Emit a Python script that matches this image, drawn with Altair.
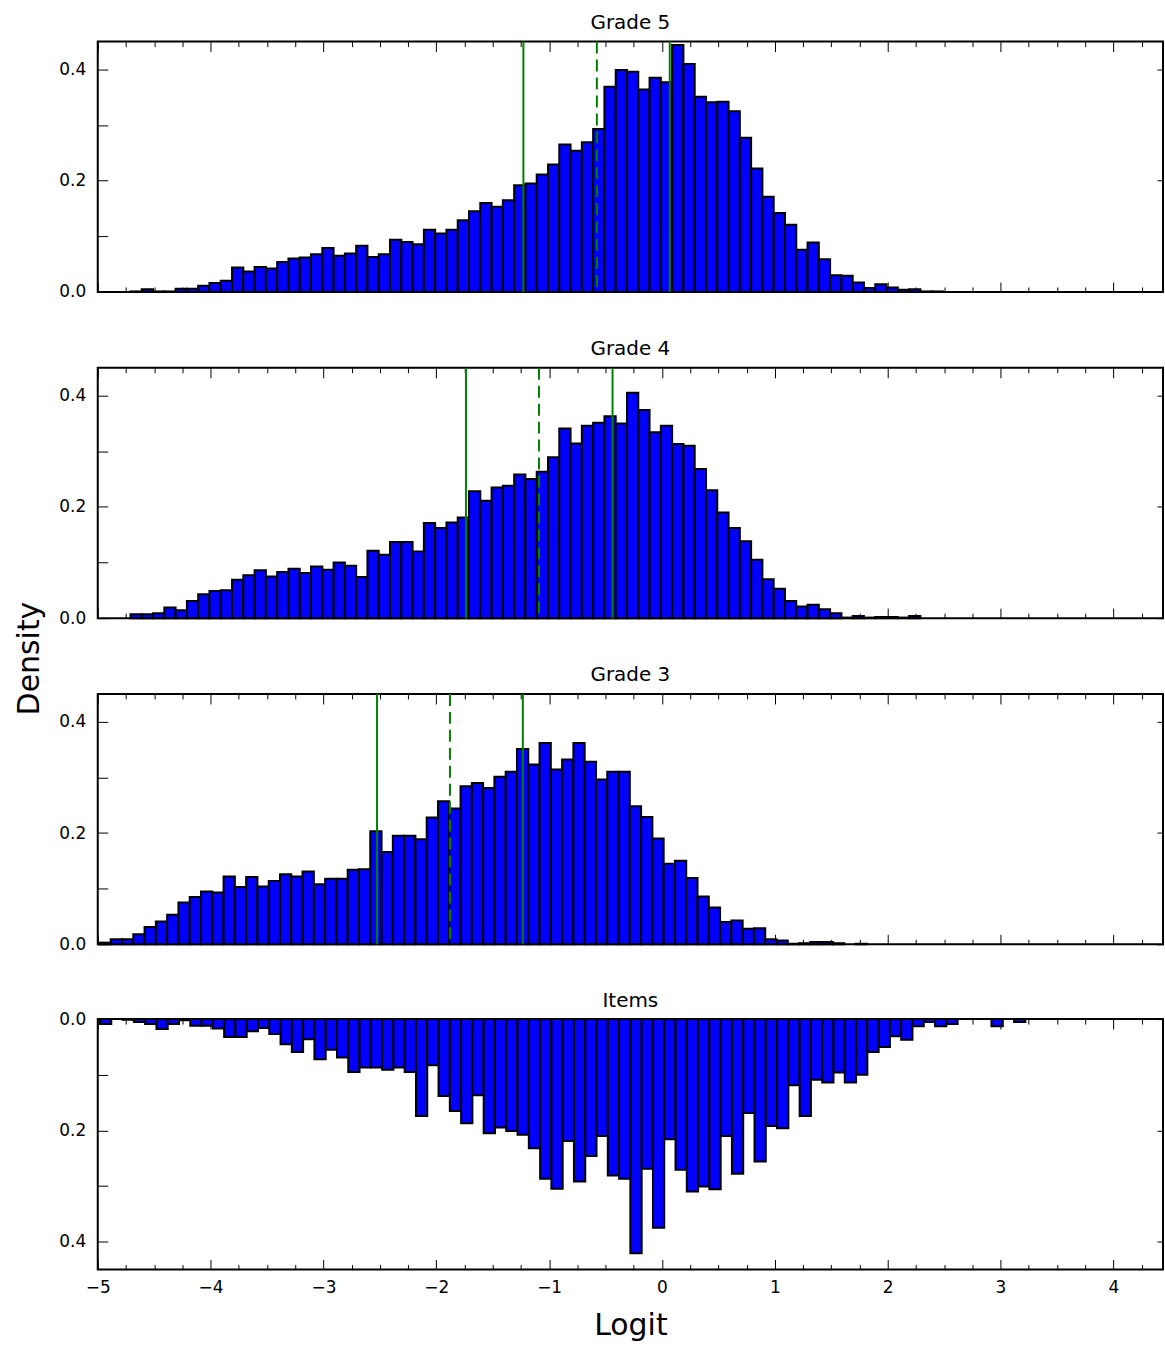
import altair as alt
import pandas as pd

BIN = 0.1
X_DOMAIN = [-5.0, 4.44]
Y_MAX = 0.45
FONT = "DejaVu Sans"

# ---- histogram densities (bin width 0.1) ----
grade5_start = -4.71
grade5_density = [
    0.001, 0.005, 0.001, 0.001, 0.006, 0.006, 0.011, 0.016, 0.020, 0.044,
    0.037, 0.045, 0.042, 0.054, 0.060, 0.062, 0.068, 0.079, 0.065, 0.069,
    0.083, 0.063, 0.068, 0.094, 0.090, 0.086, 0.112, 0.105, 0.112, 0.129,
    0.145, 0.160, 0.153, 0.165, 0.192, 0.195, 0.211, 0.229, 0.265, 0.254,
    0.269, 0.293, 0.369, 0.399, 0.396, 0.364, 0.385, 0.377, 0.444, 0.410,
    0.351, 0.341, 0.342, 0.325, 0.277, 0.222, 0.171, 0.142, 0.121, 0.076,
    0.089, 0.059, 0.030, 0.029, 0.017, 0.007, 0.014, 0.008, 0.004, 0.005,
    0.001, 0.001,
]
grade5_lines = [-1.228, -0.577, 0.069]

grade4_start = -4.71
grade4_density = [
    0.007, 0.007, 0.009, 0.019, 0.014, 0.031, 0.043, 0.049, 0.050, 0.069,
    0.077, 0.086, 0.075, 0.083, 0.089, 0.081, 0.093, 0.087, 0.100, 0.094,
    0.074, 0.121, 0.114, 0.137, 0.137, 0.120, 0.171, 0.162, 0.172, 0.181,
    0.228, 0.211, 0.235, 0.238, 0.258, 0.250, 0.263, 0.289, 0.341, 0.314,
    0.346, 0.351, 0.363, 0.350, 0.405, 0.374, 0.334, 0.346, 0.313, 0.310,
    0.268, 0.230, 0.190, 0.162, 0.138, 0.105, 0.070, 0.053, 0.031, 0.021,
    0.024, 0.016, 0.009, 0.001, 0.004, 0.001, 0.002, 0.002, 0.001, 0.004,
]
grade4_lines = [-1.737, -1.090, -0.438]

grade3_start = -4.985
grade3_density = [
    0.003, 0.009, 0.009, 0.018, 0.031, 0.041, 0.053, 0.075, 0.085, 0.095,
    0.093, 0.122, 0.103, 0.121, 0.104, 0.114, 0.126, 0.122, 0.131, 0.108,
    0.118, 0.118, 0.134, 0.135, 0.203, 0.166, 0.195, 0.195, 0.189, 0.228,
    0.257, 0.244, 0.284, 0.290, 0.281, 0.301, 0.310, 0.351, 0.323, 0.362,
    0.314, 0.332, 0.362, 0.328, 0.296, 0.310, 0.310, 0.248, 0.229, 0.190,
    0.145, 0.150, 0.119, 0.086, 0.066, 0.040, 0.043, 0.028, 0.029, 0.009,
    0.007, 0.001, 0.002, 0.004, 0.004, 0.002, 0.000, 0.001,
]
grade3_lines = [-2.525, -1.879, -1.233]

items_start = -4.98
items_density = [
    0.009, 0.000, 0.001, 0.005, 0.009, 0.018, 0.009, 0.002, 0.012, 0.012,
    0.017, 0.032, 0.032, 0.022, 0.016, 0.027, 0.045, 0.059, 0.036, 0.072,
    0.055, 0.069, 0.095, 0.087, 0.087, 0.091, 0.087, 0.095, 0.174, 0.083,
    0.138, 0.165, 0.187, 0.137, 0.205, 0.195, 0.201, 0.208, 0.232, 0.287,
    0.305, 0.219, 0.292, 0.246, 0.210, 0.281, 0.287, 0.421, 0.269, 0.375,
    0.216, 0.271, 0.310, 0.301, 0.306, 0.210, 0.278, 0.169, 0.256, 0.192,
    0.196, 0.119, 0.174, 0.109, 0.114, 0.096, 0.114, 0.100, 0.059, 0.050,
    0.031, 0.037, 0.013, 0.005, 0.013, 0.009, 0.000, 0.000, 0.000, 0.013,
    0.000, 0.005,
]

line_kinds = ["bound", "centre", "bound"]

x_major = [-5, -4, -3, -2, -1, 0, 1, 2, 3, 4]
x_minor = [-4.75, -4.5, -4.25, -3.75, -3.5, -3.25, -2.75, -2.5, -2.25,
           -1.75, -1.5, -1.25, -0.75, -0.5, -0.25, 0.25, 0.5, 0.75,
           1.25, 1.5, 1.75, 2.25, 2.5, 2.75, 3.25, 3.5, 3.75, 4.25]
y_major = [0.0, 0.2, 0.4]
y_minor = [0.1, 0.3]


def hist_df(start, vals):
    rows = []
    for i, v in enumerate(vals):
        if v > 0:
            rows.append({"x0": round(start + i * BIN, 4),
                         "x1": round(start + (i + 1) * BIN, 4),
                         "density": v})
    return pd.DataFrame(rows)


def axis(orient, values, size, labels=False, fmt=None, pad=0, title=None, title_pad=0):
    kw = dict(orient=orient, values=values, tickSize=size, offset=-size,
              domain=False, grid=False, labels=labels, ticks=True,
              tickColor="black", tickWidth=1, title=title)
    if labels:
        kw.update(format=fmt, labelPadding=pad, labelFont=FONT, labelFontSize=17,
                  labelColor="black", labelFlush=False, labelOverlap=False)
    if title:
        kw.update(titleFont=FONT, titleFontSize=30, titleFontWeight="normal",
                  titleColor="black", titlePadding=title_pad)
    return alt.Axis(**kw)


def panel(name, start, vals, lines=None, reverse=False, last=False, title_offset=8):
    df = hist_df(start, vals)
    xs = alt.Scale(domain=X_DOMAIN, nice=False, zero=False)
    ys = alt.Scale(domain=[0, Y_MAX], nice=False, zero=False, reverse=reverse)
    base = alt.Chart(df)

    def layer(mark, ax_x, ax_y):
        return mark.encode(
            x=alt.X("x0:Q", scale=xs, axis=ax_x),
            x2="x1",
            y=alt.Y("density:Q", scale=ys, axis=ax_y),
            y2=alt.datum(0),
        )

    bars = layer(
        base.mark_rect(fill="#0000ff", stroke="black", strokeWidth=2),
        axis("bottom", x_major, 10, labels=last, fmt="d", pad=10,
             title="Logit" if last else None, title_pad=15),
        axis("left", y_major, 10, labels=True, fmt=".1f", pad=12),
    )
    g1 = layer(base.mark_rect(opacity=0),
               axis("bottom", x_minor, 5), axis("left", y_minor, 10))
    g2 = layer(base.mark_rect(opacity=0),
               axis("top", x_major, 10), axis("right", y_major, 6))
    g3 = layer(base.mark_rect(opacity=0),
               axis("top", x_minor, 5), axis("right", y_minor, 1))
    layers = [bars, g1, g2, g3]
    if lines:
        ldf = pd.DataFrame({"x": lines, "kind": line_kinds})
        rules = alt.Chart(ldf).mark_rule(color="#008000", strokeWidth=2).encode(
            x=alt.X("x:Q", scale=xs, axis=None),
            strokeDash=alt.StrokeDash(
                "kind:N",
                scale=alt.Scale(domain=["bound", "centre"], range=[[1, 0], [12, 6]]),
                legend=None,
            ),
        )
        layers.append(rules)
    return alt.layer(*layers).resolve_axis(
        x="independent", y="independent"
    ).properties(
        width=1068, height=251,
        title=alt.TitleParams(name, font=FONT, fontSize=20, fontWeight="normal",
                              color="black", anchor="middle", frame="group",
                              offset=title_offset),
    )


chart = alt.vconcat(
    panel("Grade 5", grade5_start, grade5_density, grade5_lines),
    panel("Grade 4", grade4_start, grade4_density, grade4_lines),
    panel("Grade 3", grade3_start, grade3_density, grade3_lines),
    panel("Items", items_start, items_density, reverse=True, last=True, title_offset=-1),
    spacing=37,
).properties(
    title=alt.TitleParams("Density", orient="left", anchor="middle", font=FONT,
                          fontSize=30, fontWeight="normal", color="black",
                          offset=13, dx=18),
    padding={"left": 14, "top": 10, "right": 0, "bottom": 0},
    background="white",
).configure_view(
    stroke="black", strokeWidth=2
)

chart.save("out.html", embed_options={"renderer": "svg", "actions": False})
